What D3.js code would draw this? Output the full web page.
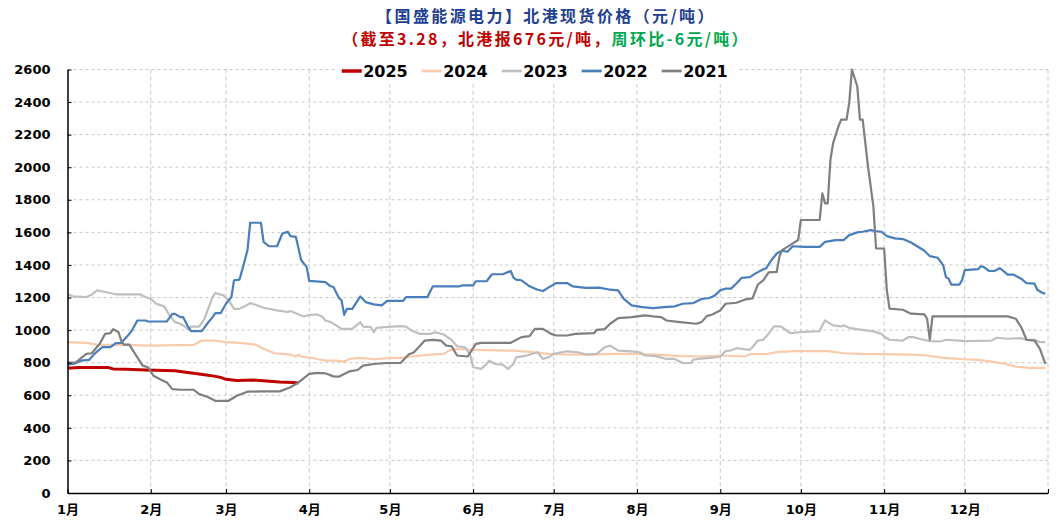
<!DOCTYPE html>
<html>
<head>
<meta charset="utf-8">
<script src="https://cdn.jsdelivr.net/npm/d3@7"></script>
<style>
  body { margin: 0; background: #fff; }
</style>
</head>
<body>
<div id="chart"></div>
<script>
// 北港现货价格, 元/吨, dates as month-day of each year
var years = ["2025", "2024", "2023", "2022", "2021"];
var monthLabels = ["1月", "2月", "3月", "4月", "5月", "6月", "7月", "8月", "9月", "10月", "11月", "12月"];
var yTickValues = [0, 200, 400, 600, 800, 1000, 1200, 1400, 1600, 1800, 2000, 2200, 2400, 2600];

var titleText = "【国盛能源电力】北港现货价格（元/吨）";
var subRed = "（截至3.28，北港报676元/吨，";
var subGreen = "周环比-6元/吨）";

var s2025 = [
  ["01-01", 766], ["01-05", 770], ["01-16", 770], ["01-18", 762], ["01-23", 760], ["01-30", 755],
  ["02-10", 750], ["02-14", 741], ["02-19", 731], ["02-23", 722], ["02-27", 710], ["03-01", 698],
  ["03-05", 690], ["03-11", 694], ["03-16", 688], ["03-21", 681], ["03-26", 678], ["03-28", 676]
];

var s2024 = [
  ["01-01", 926], ["01-08", 922], ["01-12", 911], ["01-23", 909], ["01-31", 905], ["02-17", 909],
  ["02-20", 936], ["02-25", 936], ["03-01", 926], ["03-06", 922], ["03-12", 911], ["03-15", 885],
  ["03-19", 858], ["03-25", 850], ["03-27", 837], ["03-28", 850], ["03-29", 837], ["04-02", 829],
  ["04-07", 813], ["04-11", 813], ["04-14", 807], ["04-16", 823], ["04-20", 829], ["04-25", 821],
  ["05-02", 829], ["05-05", 829], ["05-09", 838], ["05-16", 850], ["05-21", 854], ["05-23", 874],
  ["05-26", 885], ["06-01", 879], ["06-16", 874], ["06-21", 868], ["06-29", 854], ["07-06", 850],
  ["07-15", 850], ["07-23", 854], ["07-31", 854], ["08-08", 850], ["08-17", 840], ["08-25", 838],
  ["09-01", 844], ["09-10", 838], ["09-12", 852], ["09-18", 852], ["09-22", 865], ["09-28", 871],
  ["10-11", 871], ["10-17", 858], ["10-23", 854], ["11-11", 850], ["11-17", 844], ["11-23", 830],
  ["12-01", 821], ["12-06", 817], ["12-11", 807], ["12-16", 793], ["12-20", 776], ["12-25", 768],
  ["12-31", 768]
];

var s2023 = [
  ["01-01", 1220], ["01-03", 1207], ["01-08", 1203], ["01-10", 1217], ["01-12", 1244], ["01-15", 1234],
  ["01-19", 1220], ["01-28", 1220], ["01-30", 1203], ["02-01", 1193], ["02-03", 1162], ["02-06", 1146],
  ["02-08", 1090], ["02-10", 1049], ["02-12", 1039], ["02-14", 1018], ["02-15", 1002], ["02-16", 1022],
  ["02-19", 1022], ["02-21", 1070], ["02-24", 1203], ["02-25", 1228], ["02-28", 1213], ["03-02", 1183],
  ["03-04", 1131], ["03-06", 1131], ["03-08", 1146], ["03-10", 1166], ["03-12", 1156], ["03-15", 1137],
  ["03-17", 1131], ["03-20", 1121], ["03-24", 1111], ["03-25", 1117], ["03-27", 1104], ["03-30", 1084],
  ["04-01", 1094], ["04-04", 1096], ["04-06", 1080], ["04-07", 1059], ["04-09", 1049], ["04-11", 1029],
  ["04-13", 1008], ["04-17", 1008], ["04-19", 1035], ["04-20", 1049], ["04-21", 1022], ["04-24", 1018],
  ["04-25", 987], ["04-26", 1014], ["04-29", 1018], ["05-05", 1024], ["05-07", 1022], ["05-09", 998],
  ["05-12", 977], ["05-16", 977], ["05-18", 987], ["05-21", 973], ["05-24", 940], ["05-26", 901],
  ["05-29", 895], ["05-31", 844], ["06-01", 772], ["06-04", 762], ["06-06", 792], ["06-07", 813],
  ["06-09", 792], ["06-12", 788], ["06-14", 762], ["06-16", 792], ["06-17", 833], ["06-21", 844],
  ["06-25", 864], ["06-27", 823], ["06-29", 833], ["07-01", 854], ["07-06", 870], ["07-10", 864],
  ["07-13", 850], ["07-17", 854], ["07-20", 895], ["07-22", 905], ["07-25", 874], ["07-30", 870],
  ["08-02", 864], ["08-04", 844], ["08-08", 840], ["08-12", 823], ["08-15", 823], ["08-18", 798],
  ["08-21", 798], ["08-22", 819], ["08-24", 823], ["08-28", 829], ["08-30", 833], ["09-01", 838],
  ["09-03", 871], ["09-05", 875], ["09-07", 889], ["09-12", 879], ["09-13", 895], ["09-15", 936],
  ["09-17", 941], ["09-19", 978], ["09-21", 1023], ["09-23", 1023], ["09-24", 1019], ["09-27", 982],
  ["10-01", 988], ["10-08", 994], ["10-09", 1029], ["10-10", 1060], ["10-11", 1049], ["10-13", 1029],
  ["10-16", 1023], ["10-17", 1029], ["10-19", 1014], ["10-22", 1006], ["10-24", 1002], ["10-28", 992],
  ["10-31", 977], ["11-01", 961], ["11-03", 941], ["11-08", 936], ["11-10", 957], ["11-12", 957],
  ["11-14", 947], ["11-18", 932], ["11-22", 930], ["11-24", 941], ["11-29", 936], ["12-01", 932],
  ["12-11", 936], ["12-13", 953], ["12-17", 947], ["12-22", 951], ["12-24", 941], ["12-27", 941],
  ["12-29", 926], ["12-31", 926]
];

var s2022 = [
  ["01-01", 788], ["01-04", 796], ["01-06", 813], ["01-09", 817], ["01-11", 854], ["01-14", 895],
  ["01-17", 895], ["01-19", 920], ["01-21", 922], ["01-23", 957], ["01-25", 998], ["01-27", 1059],
  ["01-30", 1059], ["01-31", 1053], ["02-07", 1053], ["02-09", 1100], ["02-10", 1100], ["02-12", 1080],
  ["02-13", 1080], ["02-15", 1018], ["02-16", 994], ["02-20", 994], ["02-22", 1039], ["02-24", 1080],
  ["02-25", 1104], ["02-27", 1104], ["03-01", 1162], ["03-03", 1203], ["03-04", 1306], ["03-06", 1310],
  ["03-07", 1367], ["03-09", 1491], ["03-10", 1659], ["03-14", 1659], ["03-15", 1542], ["03-17", 1515],
  ["03-20", 1515], ["03-22", 1593], ["03-24", 1604], ["03-25", 1577], ["03-27", 1573], ["03-29", 1429],
  ["03-31", 1388], ["04-01", 1302], ["04-07", 1295], ["04-09", 1269], ["04-10", 1265], ["04-12", 1199],
  ["04-13", 1183], ["04-14", 1094], ["04-15", 1131], ["04-17", 1131], ["04-20", 1207], ["04-22", 1172],
  ["04-25", 1158], ["04-28", 1152], ["04-30", 1180], ["05-06", 1180], ["05-07", 1203], ["05-15", 1203],
  ["05-17", 1269], ["05-27", 1269], ["05-28", 1275], ["06-01", 1275], ["06-02", 1300], ["06-06", 1300],
  ["06-08", 1343], ["06-12", 1343], ["06-15", 1363], ["06-16", 1322], ["06-17", 1310], ["06-19", 1306],
  ["06-22", 1269], ["06-25", 1248], ["06-27", 1240], ["06-29", 1261], ["07-02", 1289], ["07-06", 1289],
  ["07-08", 1269], ["07-13", 1259], ["07-18", 1261], ["07-22", 1248], ["07-25", 1244], ["07-27", 1193],
  ["07-30", 1152], ["08-03", 1141], ["08-07", 1135], ["08-11", 1141], ["08-15", 1146], ["08-18", 1162],
  ["08-22", 1166], ["08-25", 1191], ["08-28", 1197], ["08-30", 1213], ["09-01", 1244], ["09-03", 1255],
  ["09-05", 1255], ["09-07", 1286], ["09-09", 1321], ["09-12", 1325], ["09-14", 1347], ["09-17", 1374],
  ["09-18", 1378], ["09-20", 1429], ["09-22", 1470], ["09-24", 1487], ["09-26", 1481], ["09-28", 1515],
  ["10-02", 1511], ["10-08", 1511], ["10-10", 1542], ["10-14", 1553], ["10-17", 1553], ["10-19", 1583],
  ["10-22", 1600], ["10-24", 1604], ["10-27", 1614], ["10-29", 1608], ["10-31", 1604], ["11-02", 1577],
  ["11-05", 1563], ["11-08", 1559], ["11-11", 1538], ["11-13", 1518], ["11-16", 1487], ["11-18", 1454],
  ["11-21", 1444], ["11-23", 1398], ["11-24", 1326], ["11-25", 1316], ["11-26", 1279], ["11-29", 1279],
  ["11-30", 1306], ["12-01", 1368], ["12-06", 1374], ["12-07", 1392], ["12-08", 1388], ["12-10", 1363],
  ["12-12", 1363], ["12-14", 1380], ["12-15", 1368], ["12-17", 1341], ["12-19", 1341], ["12-22", 1316],
  ["12-24", 1289], ["12-27", 1285], ["12-28", 1248], ["12-30", 1228], ["12-31", 1224]
];

var s2021 = [
  ["01-01", 800], ["01-04", 800], ["01-08", 854], ["01-10", 858], ["01-13", 916], ["01-15", 977],
  ["01-17", 981], ["01-18", 1006], ["01-20", 987], ["01-21", 936], ["01-22", 911], ["01-24", 911],
  ["01-27", 833], ["01-29", 782], ["01-31", 772], ["02-02", 720], ["02-05", 694], ["02-07", 679],
  ["02-09", 638], ["02-12", 634], ["02-17", 634], ["02-19", 607], ["02-22", 591], ["02-25", 566],
  ["03-02", 566], ["03-05", 597], ["03-09", 622], ["03-14", 624], ["03-21", 624], ["03-25", 649],
  ["03-28", 679], ["04-01", 731], ["04-04", 737], ["04-07", 735], ["04-10", 716], ["04-12", 714],
  ["04-16", 747], ["04-19", 755], ["04-21", 782], ["04-25", 792], ["04-30", 798], ["05-05", 798],
  ["05-08", 850], ["05-10", 864], ["05-14", 936], ["05-17", 940], ["05-20", 936], ["05-22", 905],
  ["05-24", 901], ["05-26", 844], ["05-30", 838], ["06-02", 916], ["06-04", 922], ["06-15", 922],
  ["06-19", 957], ["06-22", 963], ["06-24", 1008], ["06-27", 1008], ["06-30", 977], ["07-02", 967],
  ["07-06", 967], ["07-09", 977], ["07-16", 981], ["07-17", 1002], ["07-20", 1006], ["07-22", 1039],
  ["07-25", 1074], ["07-30", 1080], ["08-04", 1090], ["08-07", 1084], ["08-10", 1080], ["08-12", 1059],
  ["08-17", 1049], ["08-23", 1039], ["08-25", 1049], ["08-27", 1086], ["08-29", 1096], ["09-01", 1121],
  ["09-03", 1162], ["09-07", 1168], ["09-10", 1187], ["09-13", 1195], ["09-15", 1280], ["09-17", 1306],
  ["09-19", 1354], ["09-22", 1357], ["09-23", 1450], ["09-24", 1491], ["09-27", 1522], ["09-30", 1553],
  ["10-01", 1676], ["10-08", 1676], ["10-09", 1840], ["10-10", 1778], ["10-11", 1778], ["10-12", 2045],
  ["10-13", 2148], ["10-15", 2251], ["10-16", 2292], ["10-18", 2292], ["10-19", 2395], ["10-20", 2600],
  ["10-22", 2497], ["10-23", 2292], ["10-24", 2292], ["10-26", 2004], ["10-28", 1758], ["10-29", 1501],
  ["11-01", 1501], ["11-02", 1245], ["11-03", 1132], ["11-08", 1125], ["11-11", 1101], ["11-16", 1097],
  ["11-17", 1070], ["11-18", 941], ["11-19", 1084], ["12-17", 1084], ["12-20", 1070], ["12-22", 1019],
  ["12-24", 941], ["12-27", 936], ["12-29", 885], ["12-31", 793]
];

var seriesData = [s2025, s2024, s2023, s2022, s2021];
var seriesColors = ["#c00000", "#f8cbad", "#bfbfbf", "#4a7ebb", "#7f7f7f"];
var seriesWidths = [3, 2.2, 2.2, 2.2, 2.2];

var svgWidth = 1056;
var svgHeight = 527;
var margin = { top: 69.5, right: 8, bottom: 34, left: 67.5 };
var width = svgWidth - margin.left - margin.right;
var height = svgHeight - margin.top - margin.bottom;

var parseDay = d3.timeParse("%m-%d");
var yearStart = new Date(1900, 0, 1);
var yearEnd = new Date(1901, 0, 1);

var svg = d3.select("#chart")
  .append("svg")
  .attr("width", svgWidth)
  .attr("height", svgHeight)
  .style("font-family", "'DejaVu Sans', 'Noto Sans CJK SC', sans-serif");

var plot = svg.append("g")
  .attr("transform", `translate(${margin.left}, ${margin.top})`);

var x = d3.scaleTime().domain([yearStart, yearEnd]).range([0, width]);
var y = d3.scaleLinear().domain([0, 2600]).range([height, 0]);

var monthStarts = d3.timeMonth.range(yearStart, yearEnd);

// grid lines
plot.append("g")
  .selectAll("line")
  .data(yTickValues.filter(d => d > 0))
  .enter()
  .append("line")
  .attr("x1", 0)
  .attr("x2", width)
  .attr("y1", d => y(d))
  .attr("y2", d => y(d))
  .attr("stroke", "#c8c8c8")
  .attr("stroke-width", 1)
  .attr("stroke-dasharray", "3,3");

plot.append("g")
  .selectAll("line")
  .data(monthStarts.slice(1).concat([yearEnd]))
  .enter()
  .append("line")
  .attr("x1", d => x(d))
  .attr("x2", d => x(d))
  .attr("y1", 0)
  .attr("y2", height)
  .attr("stroke", "#c8c8c8")
  .attr("stroke-width", 1)
  .attr("stroke-dasharray", "4,3");

// series lines
var line = d3.line()
  .x(d => x(parseDay(d[0])))
  .y(d => y(d[1]));

seriesData.forEach(function (s, i) {
  plot.append("path")
    .datum(s)
    .attr("fill", "none")
    .attr("stroke", seriesColors[i])
    .attr("stroke-width", seriesWidths[i])
    .attr("stroke-linejoin", "round")
    .attr("d", line);
});

// axes
var leftAxis = d3.axisLeft(y).tickValues(yTickValues).tickSizeInner(-4).tickSizeOuter(0).tickPadding(17)
  .tickFormat(d3.format("d"));
var bottomAxis = d3.axisBottom(x).tickValues(monthStarts.concat([yearEnd])).tickSizeInner(-4).tickSizeOuter(0)
  .tickPadding(12)
  .tickFormat((d, i) => monthLabels[i] || "");

var yAxisG = plot.append("g").call(leftAxis);
var xAxisG = plot.append("g").attr("transform", `translate(0, ${height})`).call(bottomAxis);

[yAxisG, xAxisG].forEach(function (g) {
  g.select(".domain").attr("stroke", "#000").attr("stroke-width", 1.5);
  g.selectAll(".tick line").attr("stroke", "#000").attr("stroke-width", 1);
  g.selectAll("text")
    .attr("fill", "#000")
    .attr("font-size", 13)
    .attr("font-weight", "bold")
    .attr("font-family", "'DejaVu Sans', 'Noto Sans CJK SC', sans-serif");
});

// legend
var legend = svg.append("g").attr("transform", "translate(337, 60)");
legend.append("rect")
  .attr("width", 401)
  .attr("height", 24)
  .attr("fill", "#fff");

var items = legend.selectAll("g")
  .data(years)
  .enter()
  .append("g")
  .attr("transform", (d, i) => `translate(${4.7 + i * 80}, 11)`);

items.append("line")
  .attr("x1", 0)
  .attr("x2", 20)
  .attr("stroke", (d, i) => seriesColors[i])
  .attr("stroke-width", (d, i) => seriesWidths[i] + 0.5);

items.append("text")
  .attr("x", 21.5)
  .attr("y", 6)
  .attr("font-size", 16)
  .attr("font-weight", "bold")
  .attr("fill", "#000")
  .text(d => d);

// titles
svg.append("text")
  .attr("x", 546)
  .attr("y", 22)
  .attr("text-anchor", "middle")
  .attr("font-family", "'Noto Sans CJK SC', sans-serif")
  .attr("font-size", 16)
  .attr("font-weight", "bold")
  .attr("letter-spacing", 2.4)
  .attr("fill", "#1f3f8f")
  .text(titleText);

var sub = svg.append("text")
  .attr("x", 546)
  .attr("y", 45)
  .attr("text-anchor", "middle")
  .attr("font-family", "'Noto Sans CJK SC', sans-serif")
  .attr("font-size", 16)
  .attr("font-weight", "bold")
  .attr("letter-spacing", 2.3);
sub.append("tspan").attr("fill", "#c00000").text(subRed);
sub.append("tspan").attr("fill", "#00a84f").text(subGreen);
</script>
</body>
</html>
